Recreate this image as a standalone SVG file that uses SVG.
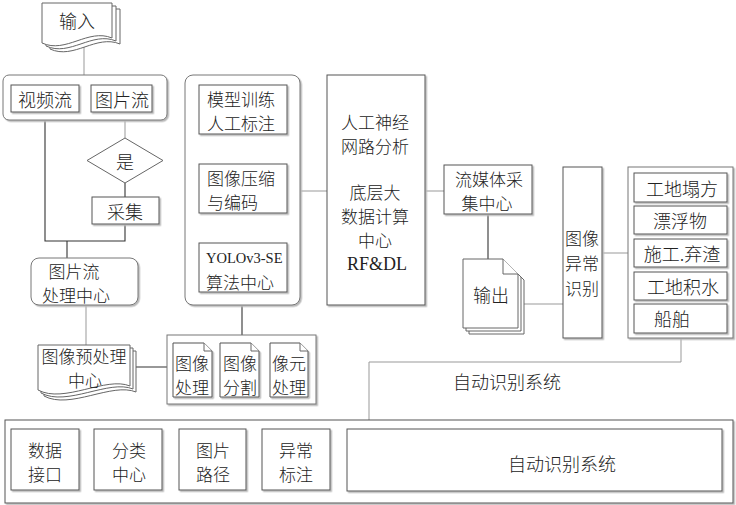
<svg xmlns="http://www.w3.org/2000/svg" width="736" height="505" viewBox="0 0 736 505">
<defs>
<filter id="sh" x="-10%" y="-10%" width="130%" height="130%">
<feDropShadow dx="1.5" dy="1.5" stdDeviation="0.3" flood-color="#b8b8b8" flood-opacity="1"/>
</filter>
<style>
.b{fill:#fff;stroke:#555;stroke-width:1;filter:url(#sh)}
.g{fill:#fff;stroke:#777;stroke-width:1;filter:url(#sh)}
.d{fill:#fff;stroke:#666;stroke-width:1}
.ln{fill:none;stroke:#333;stroke-width:1.1}
.lg{fill:none;stroke:#999;stroke-width:1}
text{font-family:"Noto Sans CJK SC","Noto Sans",sans-serif;font-size:18px;font-weight:300;fill:#222;dominant-baseline:central;text-anchor:middle}
.s{text-anchor:start}
.tm{font-family:"Liberation Serif","Noto Sans CJK SC",serif;font-weight:400}
.m{font-size:17px}
</style>
</defs>
<rect width="736" height="505" fill="#fff"/>

<g id="connectors">
<path class="lg" d="M84,47 V75"/>
<path class="lg" d="M125,112 V138"/>
<path class="ln" d="M125,183 V197"/>
<path class="ln" d="M45,112 V241 H125 V224"/>
<path class="ln" d="M67,241 V258"/>
<path class="lg" d="M86,305 V345"/>
<path class="ln" d="M132,367 H167"/>
<path class="ln" d="M242,305 V335"/>
<path class="lg" d="M300,191 H327"/>
<path class="lg" d="M425,191 H444"/>
<path class="ln" d="M488,214 V259"/>
<path class="lg" d="M521,304 H563"/>
<path class="lg" d="M602,253 H628"/>
<path class="lg" d="M681,338 V362 H369 V420"/>
</g>

<g id="input">
<path class="d" stroke="#999" d="M50,9 H120 V44 C96,34 74,60 50,49 Z"/>
<path class="d" stroke="#888" d="M46,6 H116 V41 C92,31 70,57 46,46 Z"/>
<path class="d" d="M42,3 H112 V38 C88,28 66,54 42,43 Z"/>
<text x="77" y="20">输入</text>
</g>

<g id="stream-group">
<rect class="g" x="3" y="75" width="164" height="45" rx="6"/>
</g>
<g id="video-stream">
<rect class="b" x="11" y="85" width="68" height="27"/>
<text x="45" y="99">视频流</text>
</g>
<g id="image-stream">
<rect class="b" x="91" y="85" width="61" height="27"/>
<text x="122" y="99">图片流</text>
</g>
<g id="decision">
<path class="d" d="M125,138 L163,160.5 L125,183 L87,160.5 Z"/>
<text x="125" y="161">是</text>
</g>
<g id="collect">
<rect class="b" x="92" y="197" width="67" height="27"/>
<text x="125" y="211">采集</text>
</g>
<g id="image-process-center">
<rect class="g" x="31" y="258" width="107" height="47" rx="8"/>
<text class="m" x="74" y="270">图片流</text>
<text class="m" x="76" y="294">处理中心</text>
</g>
<g id="preprocess">
<path class="d" stroke="#999" d="M44,351 H136 V392 C112,382 70,410 44,396 Z"/>
<path class="d" stroke="#888" d="M41,348 H133 V389 C109,379 67,407 41,393 Z"/>
<path class="d" d="M38,345 H130 V386 C106,376 64,404 38,390 Z"/>
<text class="m" x="84" y="355">图像预处理</text>
<text class="m" x="85" y="379">中心</text>
</g>

<g id="proc-group">
<rect class="g" x="167" y="335" width="149" height="69"/>
</g>
<g id="img-proc">
<path class="b" d="M173,343 H204 L212,351 V397 H173 Z"/>
<path class="d" fill="none" d="M204,343 V351 H212"/>
<text class="m" x="192" y="362">图像</text>
<text class="m" x="192" y="386">处理</text>
</g>
<g id="img-seg">
<path class="b" d="M220,343 H251 L259,351 V397 H220 Z"/>
<path class="d" fill="none" d="M251,343 V351 H259"/>
<text class="m" x="240" y="362">图像</text>
<text class="m" x="240" y="386">分割</text>
</g>
<g id="pixel-proc">
<path class="b" d="M270,343 H300 L308,351 V397 H270 Z"/>
<path class="d" fill="none" d="M300,343 V351 H308"/>
<text class="m" x="289" y="362">像元</text>
<text class="m" x="289" y="386">处理</text>
</g>

<g id="algo-group">
<rect class="g" x="185" y="75" width="115" height="230" rx="8"/>
</g>
<g id="train">
<rect class="b" x="199" y="85" width="88" height="49"/>
<text class="s m" x="207" y="98">模型训练</text>
<text class="s m" x="207" y="122">人工标注</text>
</g>
<g id="compress">
<rect class="b" x="199" y="164" width="88" height="49"/>
<text class="s m" x="207" y="177">图像压缩</text>
<text class="s m" x="207" y="201">与编码</text>
</g>
<g id="yolo">
<rect class="b" x="199" y="243" width="88" height="49"/>
<text class="s tm" x="206" y="258" style="font-size:14.5px">YOLOv3-SE</text>
<text class="s m" x="206" y="281">算法中心</text>
</g>

<g id="bigdata">
<rect class="b" x="327" y="75" width="98" height="230"/>
<text class="m" x="375" y="121">人工神经</text>
<text class="m" x="375" y="145">网路分析</text>
<text class="m" x="375" y="191">底层大</text>
<text class="m" x="375" y="215">数据计算</text>
<text class="m" x="375" y="239">中心</text>
<text class="tm" x="377" y="264">RF&amp;DL</text>
</g>

<g id="media-center">
<rect class="b" x="444" y="165" width="88" height="49"/>
<text class="m" x="489" y="178">流媒体采</text>
<text class="m" x="487" y="202">集中心</text>
</g>

<g id="output">
<path class="d" stroke="#999" d="M469,265 H509 L524,280 V334 H469 Z"/>
<path class="d" stroke="#888" d="M466,262 H506 L521,277 V331 H466 Z"/>
<path class="d" d="M463,259 H503 L518,274 V328 H463 Z"/>
<path class="d" fill="none" d="M503,259 V274 H518"/>
<text x="491" y="294">输出</text>
</g>

<g id="anomaly">
<rect class="b" x="563" y="167" width="39" height="171"/>
<text class="m" x="582" y="237">图像</text>
<text class="m" x="582" y="262">异常</text>
<text class="m" x="582" y="287">识别</text>
</g>

<g id="category-group">
<rect class="g" x="628" y="167" width="105" height="171"/>
</g>
<g id="c1"><rect class="b" x="634" y="173" width="93" height="29"/><text x="682" y="188">工地塌方</text></g>
<g id="c2"><rect class="b" x="634" y="206" width="93" height="28"/><text x="680" y="220">漂浮物</text></g>
<g id="c3"><rect class="b" x="634" y="239" width="93" height="28"/><text x="682" y="253">施工.弃渣</text></g>
<g id="c4"><rect class="b" x="634" y="272" width="93" height="28"/><text x="683" y="286">工地积水</text></g>
<g id="c5"><rect class="b" x="634" y="304" width="93" height="29"/><text x="672" y="318">船舶</text></g>

<g id="auto-label">
<text x="507" y="381">自动识别系统</text>
</g>

<g id="system">
<rect class="b" x="5" y="420" width="728" height="83"/>
</g>
<g id="s1"><rect class="b" x="11" y="429" width="68" height="61"/><text class="m" x="45" y="449">数据</text><text class="m" x="45" y="473">接口</text></g>
<g id="s2"><rect class="b" x="94" y="429" width="68" height="61"/><text class="m" x="129" y="449">分类</text><text class="m" x="129" y="473">中心</text></g>
<g id="s3"><rect class="b" x="179" y="429" width="67" height="61"/><text class="m" x="213" y="449">图片</text><text class="m" x="213" y="473">路径</text></g>
<g id="s4"><rect class="b" x="262" y="429" width="68" height="61"/><text class="m" x="296" y="449">异常</text><text class="m" x="296" y="473">标注</text></g>
<g id="s5"><rect class="b" x="347" y="429" width="375" height="62"/><text x="562" y="463">自动识别系统</text></g>
</svg>
